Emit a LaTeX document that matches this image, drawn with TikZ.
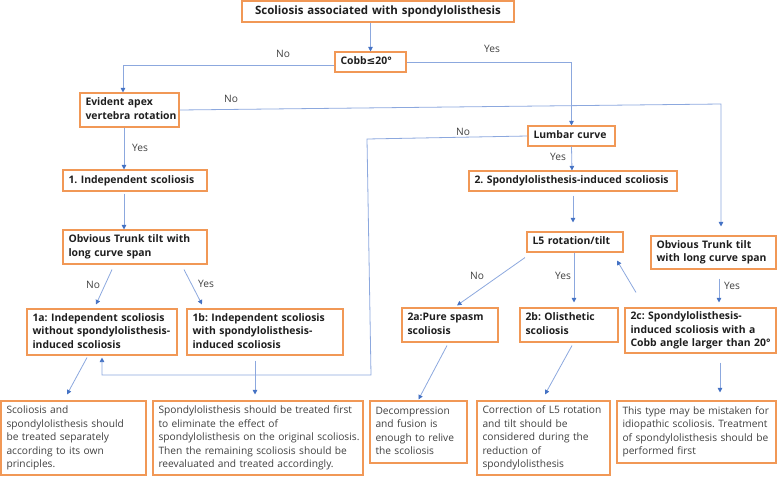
\documentclass[tikz,border=0pt]{standalone}
\usepackage{fontspec}
\setmainfont{Open Sans}
\newfontfamily\symfont{DejaVu Sans}
\usetikzlibrary{arrows.meta,calc}
\definecolor{boxor}{RGB}{241,152,86}
\definecolor{lnblue}{RGB}{140,168,222}
\definecolor{tipblue}{RGB}{68,114,196}
\definecolor{txdark}{RGB}{30,30,30}
\definecolor{txgray}{RGB}{64,64,64}
\frenchspacing
\begin{document}
\begin{tikzpicture}[x=1pt,y=-1pt,
  hbox/.style={draw=boxor,line width=1.1pt,inner xsep=5.5pt,inner ysep=0pt,
    font=\fontsize{10.4}{13.5}\selectfont\bfseries,text=txdark,align=left},
  tbox/.style={draw=boxor,line width=1.1pt,inner xsep=5.5pt,inner ysep=0pt,
    font=\fontsize{10.2}{13.5}\selectfont,text=txgray,align=left},
  lbl/.style={font=\fontsize{10.2}{11}\selectfont,text=txgray,inner sep=0pt},
  arr/.style={draw=lnblue,line width=0.8pt,-{Triangle[width=4.5pt,length=4.5pt,color=tipblue,fill=tipblue]}}]
\useasboundingbox (0,0) rectangle (777,477);
% nodes: center positions and sizes from the reference
\newcommand{\bx}[7]{\pgfmathsetmacro{\tw}{#4-11}%
  \node[#1,minimum width=#4pt,minimum height=#5pt,text width=\tw pt] (#2) at #3 {\begin{tabular}{@{}l@{}}#7\end{tabular}};}
\bx{hbox,align=center,font=\fontsize{11.5}{13.5}\selectfont\bfseries}{top}{(378,11.5)}{272}{21}{260}{Scoliosis associated with spondylolisthesis}
\bx{hbox}{cobb}{(370.5,62)}{71}{20}{59}{Cobb{\symfont\bfseries ≤}20°}
\bx{hbox}{evident}{(129.5,110)}{99}{34}{87}{Evident apex\\vertebra rotation}
\bx{hbox}{lumbar}{(571.5,136)}{87}{20}{75}{Lumbar curve}
\bx{hbox}{ind1}{(135,180.5)}{144}{21}{132}{1. Independent scoliosis}
\bx{hbox}{spi2}{(573,181)}{208}{20}{196}{2. Spondylolisthesis-induced scoliosis}
\bx{hbox}{ott1}{(135,247)}{144}{34}{132}{Obvious Trunk tilt with\\long curve span}
\bx{hbox}{l5}{(575,242)}{96}{20}{84}{L5 rotation/tilt}
\bx{hbox}{ott2}{(713.5,252.5)}{125}{33}{113}{Obvious Trunk tilt\\with long curve span}
\bx{hbox}{n1a}{(102,332)}{150}{46}{138}{1a: Independent scoliosis\\without spondylolisthesis-\\induced scoliosis}
\bx{hbox}{n1b}{(265,332)}{156}{46}{144}{1b: Independent scoliosis\\with spondylolisthesis-\\induced scoliosis}
\bx{hbox}{n2a}{(450,325)}{96}{34}{84}{2a:Pure spasm\\scoliosis}
\bx{hbox}{n2b}{(569,325)}{98}{34}{86}{2b: Olisthetic\\scoliosis}
\bx{hbox}{n2c}{(700.5,330.5)}{151}{45}{139}{2c: Spondylolisthesis-\\induced scoliosis with a\\Cobb angle larger than 20°}
\bx{tbox}{b1}{(73.5,438)}{145}{74}{133}{Scoliosis and\\spondylolisthesis should\\be treated separately\\according to its own\\principles.}
\bx{tbox}{b2}{(258,438)}{210}{74}{198}{Spondylolisthesis should be treated first\\to eliminate the effect of\\spondylolisthesis on the original scoliosis.\\Then the remaining scoliosis should be\\reevaluated and treated accordingly.}
\bx{tbox}{b3}{(418.5,432)}{97}{62}{85}{Decompression\\and fusion is\\enough to relive\\the scoliosis}
\bx{tbox}{b4}{(543.5,438)}{133}{74}{121}{Correction of L5 rotation\\and tilt should be\\considered during the\\reduction of\\spondylolisthesis}
\bx{tbox}{b5}{(696.5,432)}{159}{62}{147}{This type may be mistaken for\\idiopathic scoliosis. Treatment\\of spondylolisthesis should be\\performed first}
% connectors
\draw[arr] (cobb.north |- top.south) -- (cobb.north);
\draw[arr] ($(cobb.west)+(0,3)$) -| ($(evident.north)+(-6.5,0)$);
\node[lbl] (lno1) at (283,54) {No};
\draw[arr] (cobb.east) -| (lumbar.north);
\node[lbl] (lyes1) at (492,49) {Yes};
\coordinate (ne) at (721,104);
\draw[arr] (evident.east) -- (ne) -- ($(ne |- ott2.north)+(0,-9)$);
\node[lbl] (lno2) at (231,99) {No};
\draw[arr] ($(evident.south)+(-5.5,0)$) -- ($(ind1.north)+(-11,0)$);
\node[lbl] (lyes2) at (140,148) {Yes};
\coordinate (c2) at (367,139);
\coordinate (c3) at (371,375);
\draw[arr] (lumbar.west) -- (c2) -- (c3) -- (c3 -| n1a.south) -- ($(n1a.south)+(0,2)$);
\node[lbl] (lno3) at (463,132) {No};
\draw[arr] (lumbar.south) -- ($(spi2.north)+(-1,0)$);
\node[lbl] (lyes3) at (558,157) {Yes};
\draw[arr] ($(ind1.south)+(-11,2)$) -- ($(ott1.north)+(-11,0)$);
\draw[arr] ($(ott1.south)+(-23,5)$) -- ($(n1a.north)+(-6,-4)$);
\node[lbl] (lno4) at (93,285) {No};
\draw[arr] ($(ott1.south)+(49,5)$) -- ($(n1b.north)+(-63,-4)$);
\node[lbl] (lyes4) at (206,284) {Yes};
\draw[arr] ($(spi2.south)+(0,4)$) -- ($(l5.north)+(-2,-9)$);
\draw[arr] ($(l5.south)+(-50,5)$) -- ($(n2a.north)+(7,-2)$);
\node[lbl] (lno5) at (477,276) {No};
\draw[arr] ($(l5.south)+(-1,0)$) -- ($(n2b.north)+(5,-5)$);
\node[lbl] (lyes5) at (563,276) {Yes};
\draw[arr] ($(n2c.north)+(-64.5,-15)$) -- ($(l5.south)+(42,8)$);
\draw[arr] ($(ott2.south)+(5.5,9)$) -- ($(n2c.north)+(18.5,-5)$);
\node[lbl] (lyes6) at (732,286) {Yes};
\draw[arr] ($(n1a.south)+(-15,2)$) -- ($(b1.north)+(-6.5,-6)$);
\draw[arr] ($(n1b.south)+(-10,5)$) -- ($(b2.north)+(-3,-6)$);
\draw[arr] ($(n2a.south)+(-3,3)$) -- ($(b3.north)+(0,-1)$);
\draw[arr] ($(n2b.south)+(3,3)$) -- ($(b4.north)+(1.5,-6)$);
\draw[arr] ($(n2c.south)+(19.5,9)$) -- ($(b5.north)+(23.5,-8)$);
\end{tikzpicture}
\end{document}
